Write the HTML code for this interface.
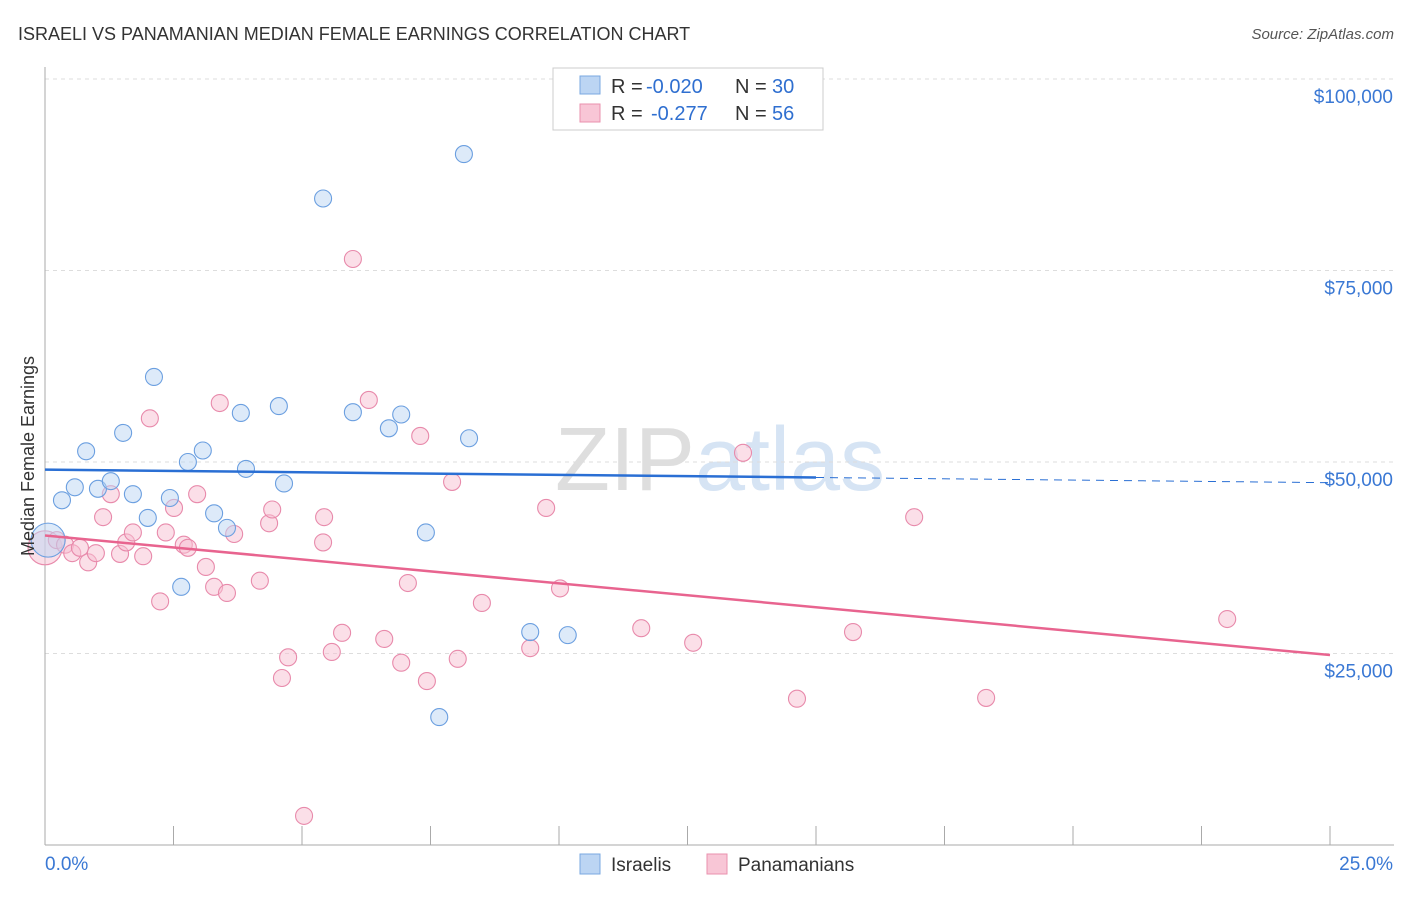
<!DOCTYPE html>
<html><head><meta charset="utf-8"><style>
body{margin:0;background:#fff;font-family:"Liberation Sans",sans-serif;}
svg text{font-family:"Liberation Sans",sans-serif;}
</style></head><body>
<svg id="c" width="1406" height="892" xmlns="http://www.w3.org/2000/svg">
<text x="18" y="40" font-size="18" fill="#333">ISRAELI VS PANAMANIAN MEDIAN FEMALE EARNINGS CORRELATION CHART</text>
<text x="1394" y="39" font-size="15" fill="#555" text-anchor="end" font-style="italic">Source: ZipAtlas.com</text>
<text x="720" y="490" font-size="90" fill="#e6e6e6" text-anchor="middle" font-family="Liberation Serif"><tspan fill="#dedede">ZIP</tspan><tspan fill="#d6e4f4" font-family="Liberation Sans">atlas</tspan></text>
<g id="grid"></g><g id="axes"></g><g id="marks"></g>
<g>
<rect x="553" y="68" width="270" height="62" fill="#fff" stroke="#ccc"/>
<rect x="580" y="76" width="20" height="18" fill="#bcd5f3" stroke="#7aa8e0"/>
<text x="611" y="93" font-size="20" fill="#333">R =</text>
<text x="646" y="93" font-size="20" fill="#2f6fd0">-0.020</text>
<text x="735" y="93" font-size="20" fill="#333">N =</text>
<text x="772" y="93" font-size="20" fill="#2f6fd0">30</text>
<rect x="580" y="104" width="20" height="18" fill="#f8c6d6" stroke="#ea90ae"/>
<text x="611" y="120" font-size="20" fill="#333">R =</text>
<text x="651" y="120" font-size="20" fill="#2f6fd0">-0.277</text>
<text x="735" y="120" font-size="20" fill="#333">N =</text>
<text x="772" y="120" font-size="20" fill="#2f6fd0">56</text>
</g>
<g>
<rect x="580" y="854" width="20" height="20" fill="#bcd5f3" stroke="#7aa8e0"/>
<text x="611" y="871" font-size="19" fill="#333">Israelis</text>
<rect x="707" y="854" width="20" height="20" fill="#f8c6d6" stroke="#ea90ae"/>
<text x="738" y="871" font-size="19" fill="#333">Panamanians</text>
</g>
<text x="34" y="456" font-size="18" fill="#333" transform="rotate(-90 34 456)" text-anchor="middle">Median Female Earnings</text>
</svg>
<script>
const yTicks=[25000,50000,75000,100000];
const yTickLabels=["$25,000","$50,000","$75,000","$100,000"];
const xTickLabels=["0.0%","25.0%"];
const israeliX=[0.06,0.33,0.58,0.80,1.03,1.28,1.52,1.71,2.00,2.12,2.43,2.65,2.78,3.07,3.29,3.54,3.81,3.91,4.55,4.65,5.41,5.99,6.69,6.93,7.41,7.67,8.15,8.25,9.44,10.17];
const israeliY=[39800,45000,46700,51400,46500,47500,53800,45800,42700,61100,45300,33700,50000,51500,43300,41400,56400,49100,57300,47200,84400,56500,54400,56200,40800,16700,90200,53100,27800,27400];
const panX=[0.0,0.23,0.39,0.53,0.68,0.84,0.99,1.13,1.28,1.46,1.58,1.71,1.91,2.04,2.24,2.35,2.51,2.70,2.78,2.96,3.13,3.29,3.40,3.54,3.68,4.18,4.36,4.42,4.61,4.73,5.04,5.43,5.41,5.58,5.78,5.99,6.30,6.60,6.93,7.06,7.30,7.43,7.92,8.03,8.50,9.44,9.75,10.02,11.60,12.61,13.58,14.63,15.72,16.91,18.31,23.00];
const panY=[38800,39800,39200,38100,38800,36900,38100,42800,45800,38000,39500,40800,37700,55700,31800,40800,44000,39200,38800,45800,36300,33700,57700,32900,40600,34500,42000,43800,21800,24500,3800,42800,39500,25200,27700,76500,58100,26900,23800,34200,53400,21400,47400,24300,31600,25700,44000,33500,28300,26400,51200,19100,27800,42800,19200,29500];
const israeliTrend=[49000,47300];
const panTrend=[40400,24800];
const NS="http://www.w3.org/2000/svg";
const X=v=>45+v/25*1285, Y=v=>845-v/25000*191.5;
function mk(t,a,p){const e=document.createElementNS(NS,t);for(const k in a)e.setAttribute(k,a[k]);p.appendChild(e);return e;}
const grid=document.getElementById('grid'),axes=document.getElementById('axes'),marks=document.getElementById('marks');
yTicks.forEach((t,i)=>{
 const l=mk('line',{x1:45,x2:1394,y1:Y(t),y2:Y(t),stroke:'#ddd','stroke-dasharray':'4,4'},grid);
 
 
 const tx=mk('text',{x:1393,y:Y(t)+24,'font-size':19,fill:'#3a78d4','text-anchor':'end'},axes);
 tx.textContent=yTickLabels[i];
 
 
});
const ax=mk('line',{x1:45,x2:45,y1:67,y2:845,stroke:'#aaa'},axes);


const bx=mk('line',{x1:45,x2:1394,y1:845,y2:845,stroke:'#aaa'},axes);


for(let i=0;i<=10;i++){const t=mk('line',{x1:X(i*2.5),x2:X(i*2.5),y1:826,y2:845,stroke:'#aaa'},axes);
 
 }
[[0,45,'start'],[25,1393,'end']].forEach((d,i)=>{const t=mk('text',{x:d[1],y:870,'font-size':19,fill:'#3a78d4','text-anchor':d[2]},axes);t.textContent=xTickLabels[i];
 
 });
function pts(xs,ys,fill,stroke,name){xs.forEach((x,i)=>{const c=mk('circle',{cx:X(x),cy:Y(ys[i]),r:i==0?17:8.5,fill:fill,'fill-opacity':0.5,stroke:stroke,'stroke-width':1.1},marks);
 
 });}
pts(panX,panY,'#f7bfd2','#e88aab','panamanian-point');
pts(israeliX,israeliY,'#bcd5f3','#6b9fe0','israeli-point');
const ym=israeliTrend[0]+(israeliTrend[1]-israeliTrend[0])*(15/25);
const l1=mk('line',{x1:X(0),y1:Y(israeliTrend[0]),x2:X(15),y2:Y(ym),stroke:'#2a6fd4','stroke-width':2.5},marks);


const l2=mk('line',{x1:X(15),y1:Y(ym),x2:X(25),y2:Y(israeliTrend[1]),stroke:'#2a6fd4','stroke-width':1,'stroke-dasharray':'8,6'},marks);


const l3=mk('line',{x1:X(0),y1:Y(panTrend[0]),x2:X(25),y2:Y(panTrend[1]),stroke:'#e8648f','stroke-width':2.5},marks);


</script>
</body></html>
